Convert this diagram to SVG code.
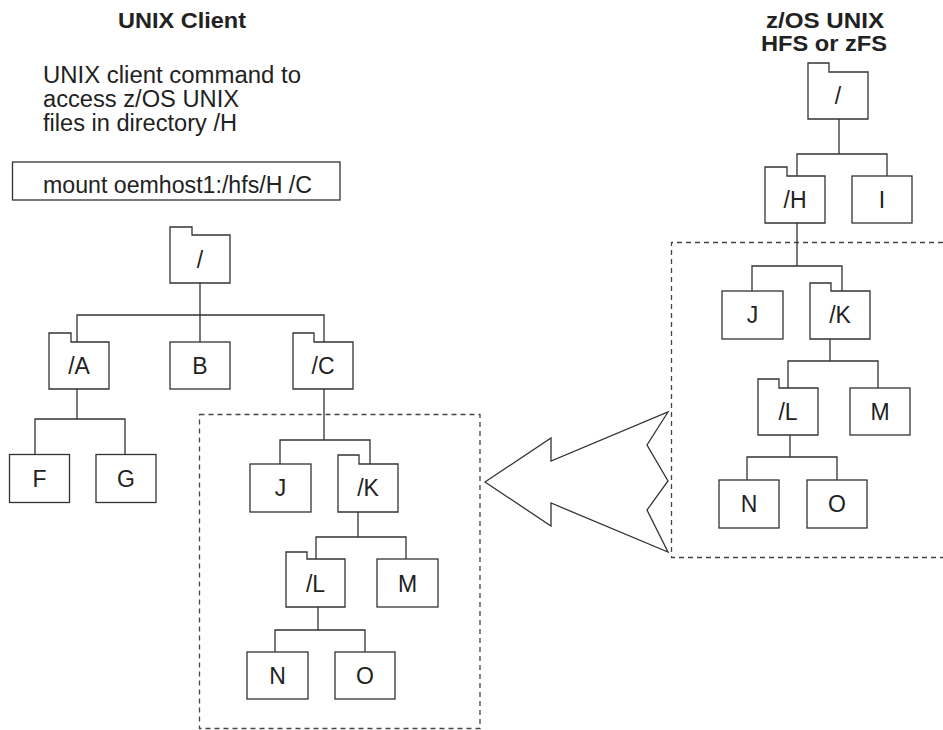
<svg xmlns="http://www.w3.org/2000/svg" width="943" height="730" viewBox="0 0 943 730">
<style>
text{font-family:"Liberation Sans",Arial,Helvetica,sans-serif;fill:#222}
.t{font-size:22px;font-weight:bold;text-anchor:middle}
.p{font-size:23px}
.n{font-size:23px;text-anchor:middle}
.b{fill:#fff;stroke:#333;stroke-width:1.3}
.c{fill:none;stroke:#333;stroke-width:1.3}
.d{fill:none;stroke:#444;stroke-width:1.3;stroke-dasharray:5,4}
</style>
<rect width="943" height="730" fill="#fff"/>
<g id="titles">
<text class="t" x="182" y="28" textLength="128" lengthAdjust="spacingAndGlyphs">UNIX Client</text>
<text class="t" x="825" y="28" textLength="118" lengthAdjust="spacingAndGlyphs">z/OS UNIX</text>
<text class="t" x="824" y="51" textLength="126" lengthAdjust="spacingAndGlyphs">HFS or zFS</text>
<text class="p" x="43" y="83" textLength="258" lengthAdjust="spacingAndGlyphs">UNIX client command to</text>
<text class="p" x="43" y="107" textLength="196" lengthAdjust="spacingAndGlyphs">access z/OS UNIX</text>
<text class="p" x="43" y="131" textLength="194" lengthAdjust="spacingAndGlyphs">files in directory /H</text>
</g>
<g id="mount">
<rect class="b" x="12.5" y="162" width="327.5" height="38"/>
<text class="p" x="43" y="193" textLength="269" lengthAdjust="spacingAndGlyphs">mount oemhost1:/hfs/H /C</text>
</g>
<g id="dashed">
<rect class="d" x="199.5" y="414.5" width="280.5" height="314"/>
<polyline class="d" points="943,242.5 671.5,242.5 671.5,557.5 943,557.5"/>
</g>
<g id="connectors">
<path class="c" d="M200,283V315M77,342V315H324V342M200,315V342"/>
<path class="c" d="M77,389V419M35,454V419H125V454"/>
<path class="c" d="M324,389V440M280,464V440H370V464"/>
<path class="c" d="M358,512V537M316,559V537H406V559"/>
<path class="c" d="M318,607V630M275,652V630H365V652"/>
<path class="c" d="M839,119V154M797,176V154H887V176"/>
<path class="c" d="M797,223V266M752,291V266H842V291"/>
<path class="c" d="M830,339V361M788,388V361H878V388"/>
<path class="c" d="M790,435V457M747,480V457H837V480"/>
</g>
<g id="arrow">
<polygon class="b" points="485,482 551,438 551,461 668,412 647,445 668,481 647,510 668,552 551,503 551,526"/>
</g>
<g id="L-root"><path class="b" d="M170,283V227H192V235H230V283Z"/><text class="n" x="200" y="268">/</text></g>
<g id="L-A"><path class="b" d="M49,389V333H71V342H109V389Z"/><text class="n" x="79" y="374">/A</text></g>
<g id="L-B"><rect class="b" x="170" y="342" width="60" height="47"/><text class="n" x="200" y="374">B</text></g>
<g id="L-C"><path class="b" d="M293,389V333H314V342H353V389Z"/><text class="n" x="323" y="374">/C</text></g>
<g id="L-F"><rect class="b" x="9.5" y="454.5" width="60" height="48"/><text class="n" x="39.5" y="487">F</text></g>
<g id="L-G"><rect class="b" x="96" y="454.5" width="60" height="48"/><text class="n" x="126" y="487">G</text></g>
<g id="L-J"><rect class="b" x="250" y="464" width="61" height="48"/><text class="n" x="280.5" y="496">J</text></g>
<g id="L-K"><path class="b" d="M338,512V455H359V464H398V512Z"/><text class="n" x="368" y="496">/K</text></g>
<g id="L-L"><path class="b" d="M286,607V552H307V559H345V607Z"/><text class="n" x="315.5" y="592">/L</text></g>
<g id="L-M"><rect class="b" x="377" y="559" width="61" height="48"/><text class="n" x="407.5" y="592">M</text></g>
<g id="L-N"><rect class="b" x="247" y="652" width="61" height="47"/><text class="n" x="277.5" y="684">N</text></g>
<g id="L-O"><rect class="b" x="335" y="652" width="60" height="47"/><text class="n" x="365" y="684">O</text></g>
<g id="R-root"><path class="b" d="M808,119V63H829V72H868V119Z"/><text class="n" x="838" y="104">/</text></g>
<g id="R-H"><path class="b" d="M765,223V167H787V176H825V223Z"/><text class="n" x="795" y="208">/H</text></g>
<g id="R-I"><rect class="b" x="852" y="176" width="60" height="47"/><text class="n" x="882" y="208">I</text></g>
<g id="R-J"><rect class="b" x="722" y="291" width="61" height="48"/><text class="n" x="752.5" y="323">J</text></g>
<g id="R-K"><path class="b" d="M810,339V283H831V291H870V339Z"/><text class="n" x="840" y="323">/K</text></g>
<g id="R-L"><path class="b" d="M758,435V379H779V388H818V435Z"/><text class="n" x="788" y="420">/L</text></g>
<g id="R-M"><rect class="b" x="850" y="388" width="60" height="47"/><text class="n" x="880" y="420">M</text></g>
<g id="R-N"><rect class="b" x="719" y="480" width="60" height="48"/><text class="n" x="749" y="512">N</text></g>
<g id="R-O"><rect class="b" x="807" y="480" width="60" height="48"/><text class="n" x="837" y="512">O</text></g>
</svg>
